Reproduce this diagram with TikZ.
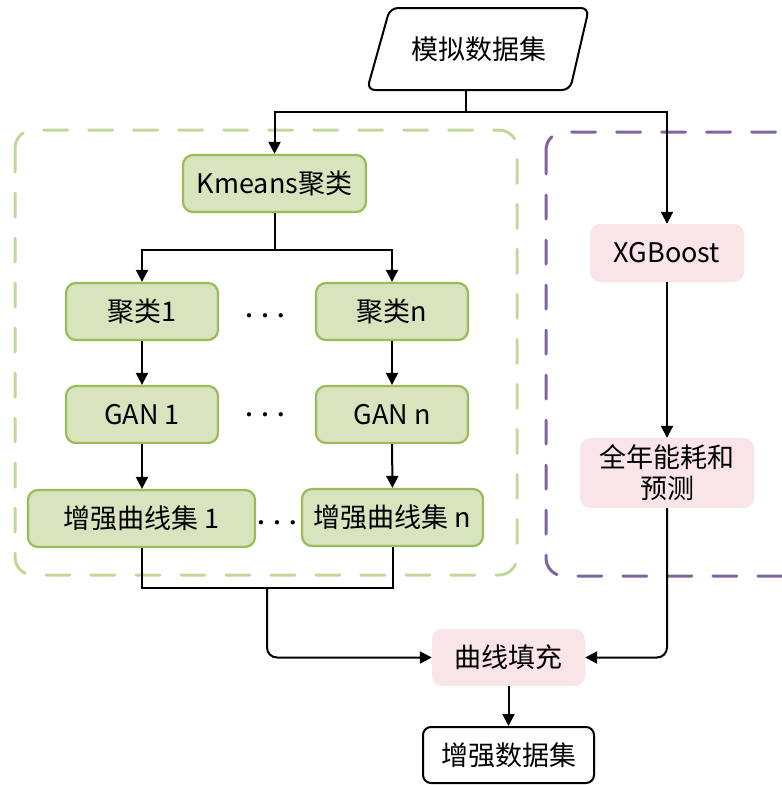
\documentclass[tikz,border=0pt]{standalone}
\usepackage{fontspec}
\setmainfont{Noto Sans CJK SC}
\usetikzlibrary{arrows.meta,calc}
\definecolor{greenfill}{HTML}{D7E4BD}
\definecolor{greenline}{HTML}{9BBB59}
\definecolor{greendash}{HTML}{C3D69B}
\definecolor{purpledash}{HTML}{8064A2}
\definecolor{pinkfill}{HTML}{F9E4E7}
\newcommand{\threedots}{$\bullet$\hspace{10.5pt}$\bullet$\hspace{10.5pt}$\bullet$}
\tikzset{
  x=1pt, y=-1pt,
  lbl/.style={font=\fontsize{27}{32}\selectfont, inner sep=0pt, align=center},
  greenbox/.style={lbl, draw=greenline, line width=2.2pt, fill=greenfill, rounded corners=10pt},
  pinkbox/.style={lbl, fill=pinkfill, rounded corners=10pt},
  plainbox/.style={lbl, draw=black, line width=2pt, fill=white, rounded corners=8pt},
  arr/.style={line width=2pt, -{Triangle[length=12pt,width=12pt]}},
  wire/.style={line width=2pt},
  dotsep/.style={font=\fontsize{11}{14}\selectfont, inner sep=0pt},
  groupbox/.style={line width=3pt, rounded corners=18pt, dash pattern=on 24pt off 21pt, line cap=round},
}
\begin{document}
\begin{tikzpicture}
\useasboundingbox (0,0) rectangle (782,785);
\begin{scope}
\clip (0,0) rectangle (782,785);
% group frames
\draw[groupbox, draw=greendash] (15,130) rectangle (517,575);
\draw[groupbox, draw=purpledash] (546,132) rectangle (800,576);

% source data (parallelogram)
\draw[line width=2pt, rounded corners=8pt, fill=white] (390,8) -- (589,8) -- (570,90) -- (367,90) -- cycle;
\node[lbl, minimum height=82pt, minimum width=150pt] (src) at (479,49) {模拟数据集};

% clustering branch
\node[greenbox, minimum width=183pt, minimum height=57pt] (km) at (274.5,183.5) {Kmeans聚类};
\node[greenbox, minimum width=152pt, minimum height=57pt] (c1) at (142,311.5) {聚类1};
\node[greenbox, minimum width=152pt, minimum height=57pt] (cn) at (392,311.5) {聚类n};
\node[greenbox, minimum width=152pt, minimum height=57pt] (g1) at (142,414.5) {GAN 1};
\node[greenbox, minimum width=152pt, minimum height=57pt] (gn) at (392,414.5) {GAN n};
\node[greenbox, minimum width=227pt, minimum height=57pt] (e1) at (141.5,518.5) {增强曲线集 1};
\node[greenbox, minimum width=181pt, minimum height=57pt] (en) at (392.5,517.5) {增强曲线集 n};

\node[dotsep] (d1) at (265,316) {\threedots};
\node[dotsep] (d2) at (265,415) {\threedots};
\node[dotsep] (d3) at (277,523) {\threedots};

% prediction branch
\node[pinkbox, minimum width=154pt, minimum height=58pt] (xgb) at (667,253) {XGBoost};
\node[pinkbox, minimum width=174pt, minimum height=70pt, font=\fontsize{27}{31}\selectfont] (pred) at (667,473) {全年能耗和\\预测};

% merging
\node[pinkbox, minimum width=153pt, minimum height=57pt] (fill) at (508.5,657.5) {曲线填充};
\node[plainbox, minimum width=171pt, minimum height=56pt] (out) at (508.5,755) {增强数据集};

% connectors
\coordinate (split) at (466,112);
\draw[wire] (src.south -| split) -- (split);
\draw[arr] (split) -| (km.north);
\draw[arr] (split) -| (xgb.north);

\coordinate (ksplit) at (274.5,250);
\draw[wire] (km.south) -- (ksplit);
\draw[arr] (ksplit) -| (c1.north);
\draw[arr] (ksplit) -| (cn.north);

\draw[arr] (c1) -- (g1);
\draw[arr] (cn) -- (gn);
\draw[arr] (g1.south) -- (g1.south |- e1.north);
\draw[arr] (gn) -- (en);

\coordinate (join) at (267,588);
\draw[wire] (e1.south -| g1) |- (join) -| (en.south);
\draw[arr, rounded corners=10pt] (join) |- (fill.west);

\draw[arr] (xgb) -- (pred);
\draw[arr, rounded corners=10pt] (pred.south) |- (fill.east);

\draw[arr] (fill) -- (out);
\end{scope}
\end{tikzpicture}
\end{document}
